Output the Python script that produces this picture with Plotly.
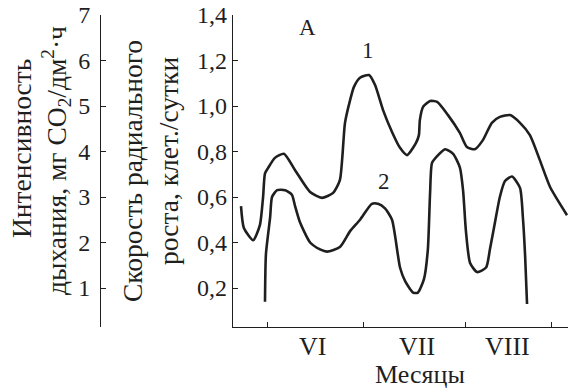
import plotly.graph_objects as go

# Season time axis, days (0 = left edge of the plotting area)
month_bounds = [10.9, 40.9, 72.8, 99.4]
month_centers = [25.0, 57.5, 85.9]
month_labels = ["VI", "VII", "VIII"]

# Curve 1: respiration intensity, mg CO2 / dm2 h
days1 = [2.5, 3.4, 6.3, 8.4, 9.4, 10.0, 10.9, 13.1, 15.9, 19.4, 24.1, 27.8, 31.3,
         33.4, 35.0, 36.6, 37.8, 39.7, 42.5, 44.4, 46.9, 49.7, 52.2, 54.4, 57.2,
         58.1, 58.4, 59.4, 61.6, 63.8, 67.2, 70.9, 73.1, 75.6, 78.1, 80.9, 83.4,
         86.6, 89.7, 92.8, 95.9, 99.1, 104.4]
resp1 = [2.80, 2.32, 2.05, 2.38, 3.00, 3.52, 3.63, 3.86, 3.95, 3.59, 3.11, 2.98, 3.09,
         3.37, 4.63, 5.13, 5.42, 5.62, 5.68, 5.46, 4.91, 4.43, 4.08, 3.92, 4.19,
         4.36, 4.69, 4.98, 5.11, 5.09, 4.80, 4.41, 4.10, 4.05, 4.25, 4.63, 4.76,
         4.80, 4.63, 4.36, 3.81, 3.22, 2.60]

# Curve 2: radial growth rate, cells / day
days2 = [10.0, 10.3, 11.6, 12.2, 13.8, 16.3, 18.4, 19.4, 20.9, 24.1, 27.2, 29.4,
         33.4, 36.6, 39.7, 43.4, 45.3, 47.5, 49.7, 52.2, 53.8, 56.3, 57.8, 59.7,
         60.9, 61.6, 62.2, 63.8, 66.3, 68.8, 70.9, 71.9, 72.8, 74.1, 76.3, 79.1,
         80.3, 81.9, 83.4, 85.0, 87.2, 89.7, 90.6, 91.3, 91.9]
growth2 = [0.14, 0.35, 0.51, 0.60, 0.63, 0.63, 0.61, 0.56, 0.49, 0.40, 0.37, 0.36,
           0.38, 0.45, 0.50, 0.57, 0.57, 0.55, 0.50, 0.29, 0.23, 0.18, 0.18, 0.24,
           0.37, 0.62, 0.75, 0.78, 0.81, 0.79, 0.73, 0.63, 0.45, 0.31, 0.27, 0.29,
           0.37, 0.49, 0.60, 0.67, 0.69, 0.64, 0.51, 0.34, 0.13]

growth_ticks = [0.2, 0.4, 0.6, 0.8, 1.0, 1.2, 1.4]
growth_ticktext = ["0,2", "0,4", "0,6", "0,8", "1,0", "1,2", "1,4"]
resp_ticks = [1, 2, 3, 4, 5, 6, 7]
resp_ticktext = ["1", "2", "3", "4", "5", "6", "7"]

INK = "#1f1f1f"
FONT = "Times New Roman"
W, H = 568, 389

fig = go.Figure()
fig.add_trace(go.Scatter(x=days1, y=resp1, yaxis="y2", mode="lines",
                         line=dict(color=INK, width=2.6, shape="spline", smoothing=0.6),
                         showlegend=False, hoverinfo="skip"))
fig.add_trace(go.Scatter(x=days2, y=growth2, yaxis="y", mode="lines",
                         line=dict(color=INK, width=2.6, shape="spline", smoothing=0.6),
                         showlegend=False, hoverinfo="skip"))

tick_font = dict(family=FONT, size=24, color=INK)
axis_common = dict(showline=True, linecolor=INK, linewidth=1.3, showgrid=False,
                   zeroline=False, ticks="inside", ticklen=5, tickwidth=1.2,
                   tickcolor=INK, tickfont=tick_font)

fig.update_layout(
    width=W, height=H, autosize=False,
    margin=dict(l=0, r=0, t=15, b=62),
    paper_bgcolor="white", plot_bgcolor="white",
    font=dict(family=FONT, size=22, color=INK),
    xaxis=dict(domain=[233 / W, 1], range=[0, 104.7], showline=True, linecolor=INK,
               linewidth=1.3, showgrid=False, zeroline=False,
               tickmode="array", tickvals=month_bounds, showticklabels=False,
               ticks="inside", ticklen=5, tickwidth=1.2, tickcolor=INK),
    yaxis=dict(range=[0.0286, 1.4], tickmode="array", tickvals=growth_ticks,
               ticktext=growth_ticktext, anchor="x", **axis_common),
    yaxis2=dict(range=[0.143, 7.0], tickmode="array", tickvals=resp_ticks,
                ticktext=[t + "\u2009" for t in resp_ticktext],
                overlaying="y", anchor="free", position=100 / W, side="left",
                **axis_common),
)


def px_x(p):
    return p / W


def px_y(p):
    return (327 - p) / 312


notes = [
    dict(text="Интенсивность", x=px_x(21), y=px_y(149), textangle=-90, size=27.5),
    dict(text="дыхания, мг CO<sub>2</sub>/дм<sup>2</sup>·ч", x=px_x(56), y=px_y(161),
         textangle=-90, size=27.5),
    dict(text="Скорость радиального", x=px_x(132), y=px_y(171), textangle=-90, size=27.5),
    dict(text="роста, клет./сутки", x=px_x(168), y=px_y(161), textangle=-90, size=27.5),
    dict(text="Месяцы", x=px_x(420), y=px_y(374), textangle=0, size=26),
    dict(text="А", x=px_x(307), y=px_y(28), textangle=0, size=23),
]
for n in notes:
    fig.add_annotation(text=n["text"], x=n["x"], y=n["y"], xref="paper", yref="paper",
                       textangle=n["textangle"], showarrow=False,
                       xanchor="center", yanchor="middle",
                       font=dict(family=FONT, size=n["size"], color=INK))

# month names centred between the boundary ticks
for xc, lab in zip(month_centers, month_labels):
    fig.add_annotation(text=lab, x=xc, y=px_y(346), xref="x", yref="paper",
                       showarrow=False, xanchor="center", yanchor="middle",
                       font=dict(family=FONT, size=26, color=INK))

# curve labels
fig.add_annotation(text="1", x=42.2, y=1.246, xref="x", yref="y", showarrow=False,
                   font=dict(family=FONT, size=23, color=INK))
fig.add_annotation(text="2", x=47.2, y=0.666, xref="x", yref="y", showarrow=False,
                   font=dict(family=FONT, size=23, color=INK))

fig.write_html("out.html")
